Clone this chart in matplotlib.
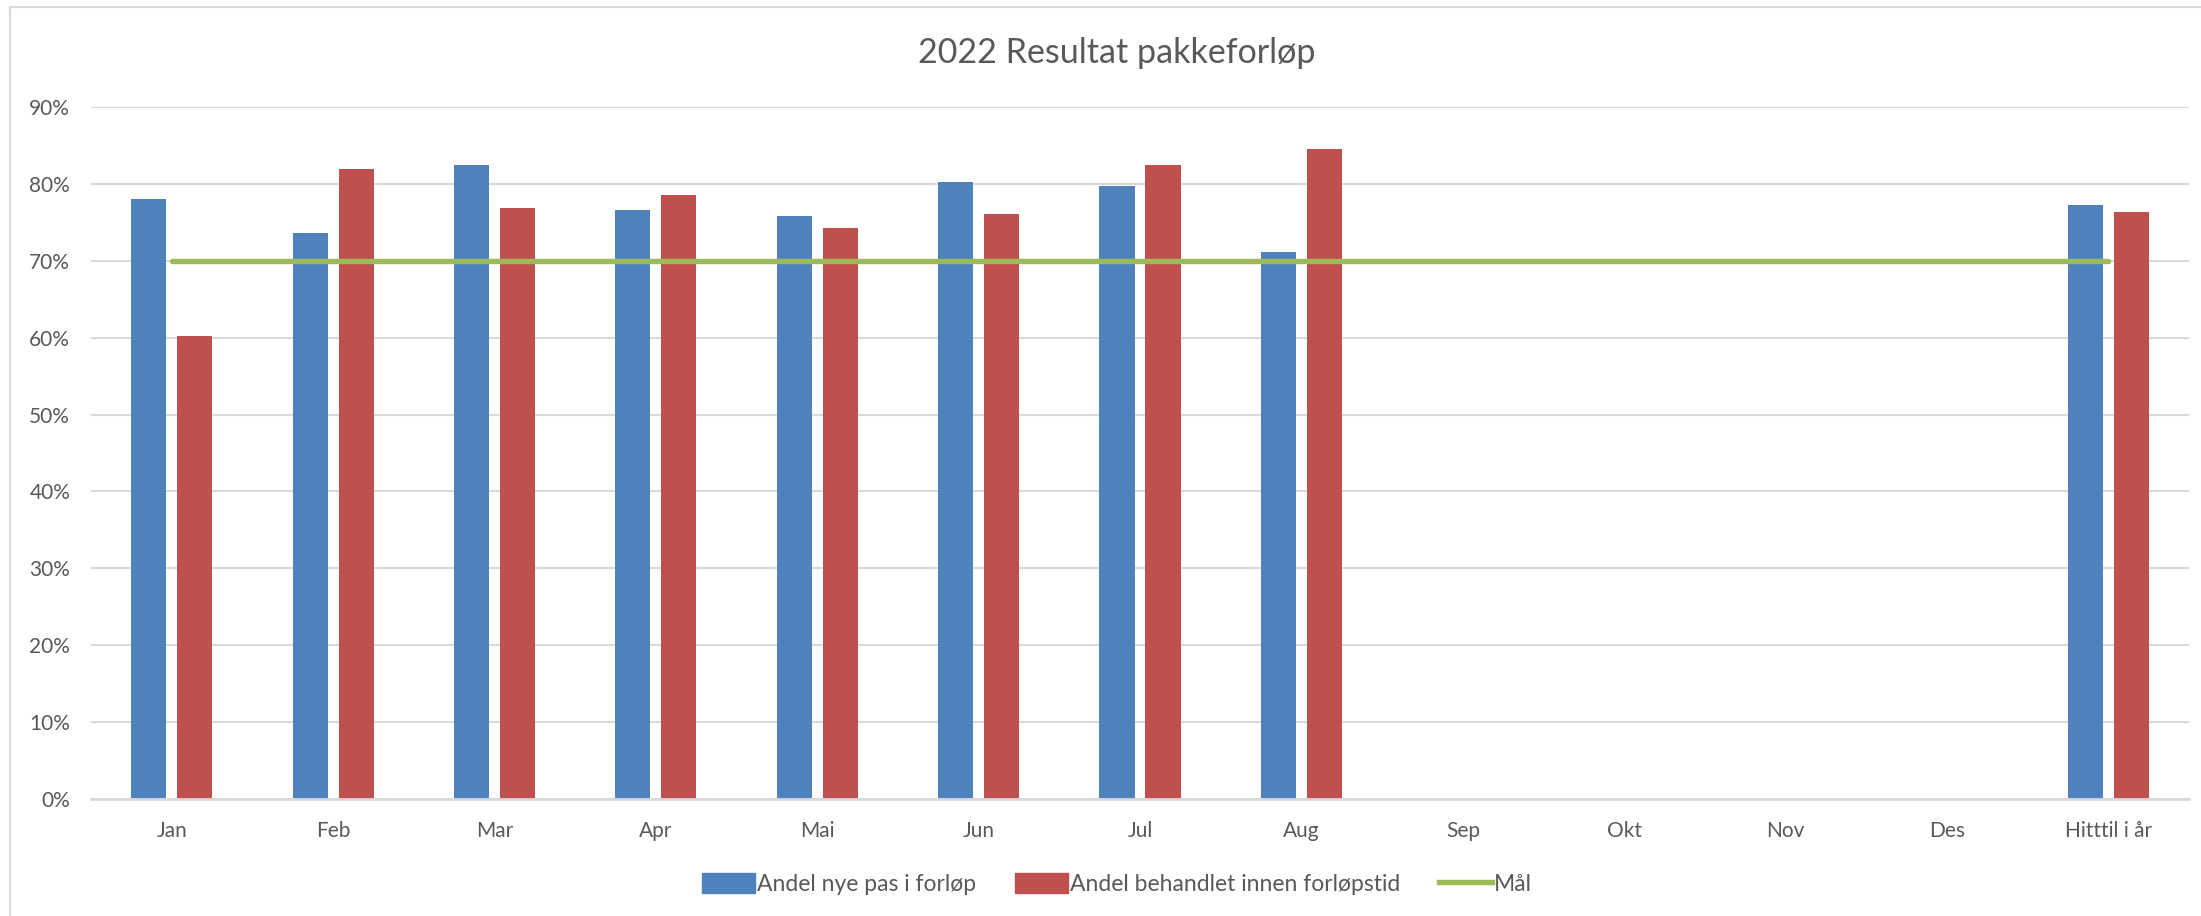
import matplotlib
matplotlib.use('Agg')
import matplotlib.pyplot as plt
import matplotlib.patches as mpatches
import matplotlib.lines as mlines
from matplotlib.ticker import PercentFormatter
import numpy as np

#data
months = ['Jan', 'Feb', 'Mar', 'Apr', 'Mai', 'Jun', 'Jul', 'Aug', 'Sep', 'Okt', 'Nov', 'Des', 'Hitttil i år']
andel_nye = [0.780, 0.736, 0.824, 0.766, 0.758, 0.802, 0.797, 0.711, np.nan, np.nan, np.nan, np.nan, 0.772]
andel_behandlet = [0.602, 0.820, 0.768, 0.786, 0.743, 0.761, 0.825, 0.845, np.nan, np.nan, np.nan, np.nan, 0.763]
maal = [0.70] * 13
yticks = [0.0, 0.1, 0.2, 0.3, 0.4, 0.5, 0.6, 0.7, 0.8, 0.9]

blue = '#4F81BD'
red = '#C0504D'
green = '#9BBB59'
textcol = '#595959'
gridcol = '#D9D9D9'

plt.rcParams['font.family'] = ['Lato', 'DejaVu Sans']

fig = plt.figure(figsize=(22.01, 9.16), dpi=100)
W, H = 2201.0, 916.0
ax = fig.add_axes([91/W, 1-799/H, (2189-91)/W, (799-107)/H])

#outer chart border
fig.patches.append(mpatches.Rectangle((10/W, -0.05), 1.2, 1-7/H+0.05, transform=fig.transFigure,
	fill=False, edgecolor='#D9D9D9', linewidth=1.5))

x = np.arange(len(months))
bw = 0.217
off = 0.1425
ax.bar(x-off, andel_nye, width=bw, color=blue, zorder=2)
ax.bar(x+off, andel_behandlet, width=bw, color=red, zorder=2)
ax.plot(x, maal, color=green, linewidth=3.9, solid_capstyle='round', zorder=3)

ax.set_xlim(-0.5, len(months)-0.5)
ax.set_ylim(0, 0.9)
ax.set_yticks(yticks)
ax.yaxis.set_major_formatter(PercentFormatter(1.0, decimals=0))
ax.set_xticks(x)
ax.set_xticklabels(months)
ax.grid(axis='y', color=gridcol, linewidth=1.5, zorder=0)
ax.tick_params(axis='both', length=0, labelsize=15, colors=textcol)
ax.tick_params(axis='y', pad=15)
ax.tick_params(axis='x', pad=16)
for s in ['top', 'right', 'left']:
	ax.spines[s].set_visible(False)
ax.spines['bottom'].set_color(gridcol)
ax.spines['bottom'].set_linewidth(2)

fig.text(1117/W, 1-53/H, '2022 Resultat pakkeforløp', ha='center', va='center', fontsize=24.5, color=textcol)

handles = [mpatches.Patch(color=blue, label='Andel nye pas i forløp'),
	mpatches.Patch(color=red, label='Andel behandlet innen forløpstid'),
	mlines.Line2D([], [], color=green, linewidth=3.9, label='Mål')]
fig.legend(handles=handles, loc='center', bbox_to_anchor=(1117/W, 1-884/H), ncol=3, frameon=False,
	fontsize=16.5, labelcolor=textcol, handlelength=2.3, handleheight=1.0, handletextpad=0.1, columnspacing=1.7)

plt.savefig('out.png', dpi=100)
